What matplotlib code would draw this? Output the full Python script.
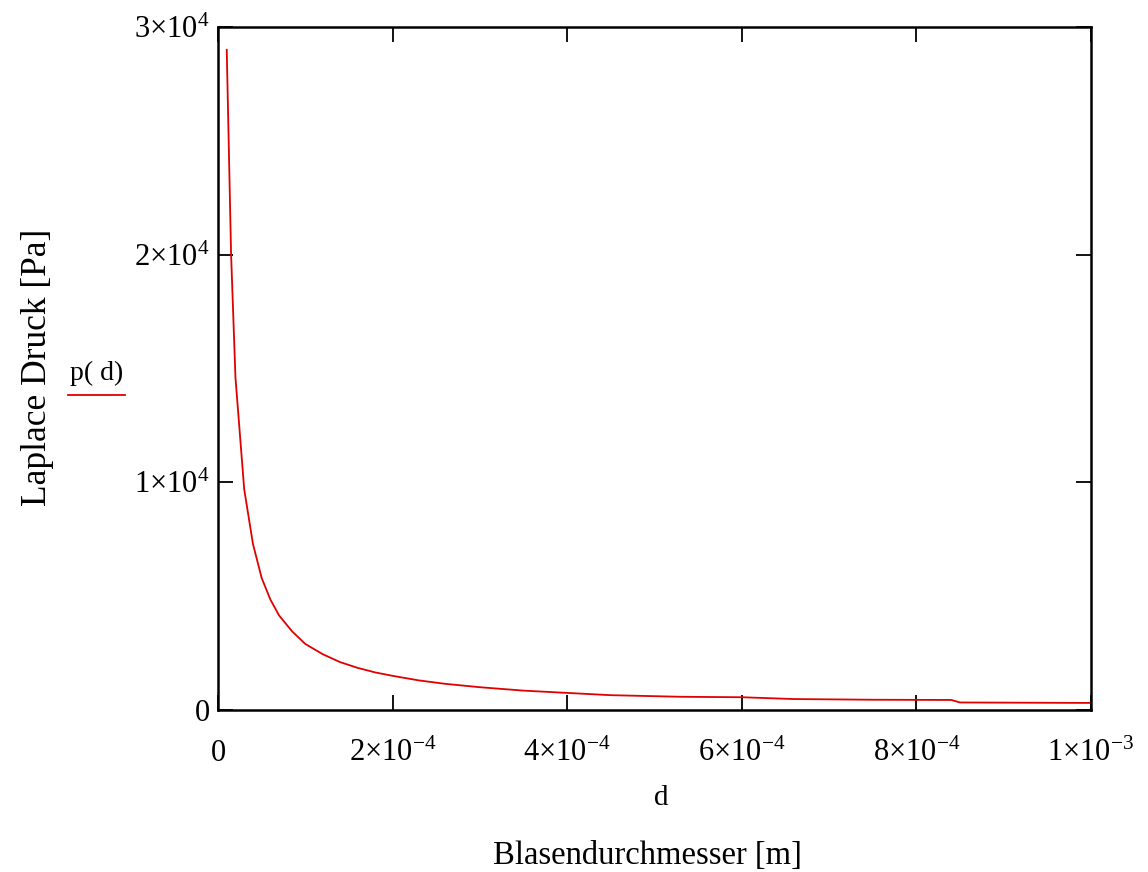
import matplotlib
matplotlib.use("Agg")
import matplotlib.pyplot as plt

# values
d_vals = [1.0e-5, 1.5e-5, 2.0e-5, 3.0e-5, 4.0e-5, 5.0e-5, 6.0e-5, 7.0e-5, 8.5e-5,
          1.0e-4, 1.2e-4, 1.4e-4, 1.6e-4, 1.8e-4, 2.0e-4, 2.3e-4, 2.6e-4, 3.0e-4,
          3.5e-4, 4.0e-4, 4.5e-4, 5.3e-4, 6.0e-4, 6.6e-4, 7.5e-4, 8.4e-4, 8.5e-4,
          9.2e-4, 1.0e-3]
p_vals = [29000, 20000, 14600, 9700, 7300, 5800, 4850, 4150, 3450,
          2900, 2450, 2100, 1850, 1650, 1500, 1300, 1150, 1000,
          850, 750, 650, 580, 560, 480, 450, 440, 330,
          320, 310]

x_ticks = [0, 2e-4, 4e-4, 6e-4, 8e-4, 1e-3]
x_labels = ["0", r"$2{\times}10^{-4}$", r"$4{\times}10^{-4}$", r"$6{\times}10^{-4}$",
            r"$8{\times}10^{-4}$", r"$1{\times}10^{-3}$"]
y_ticks = [0, 1e4, 2e4, 3e4]
y_labels = ["0", r"$1{\times}10^{4}$", r"$2{\times}10^{4}$", r"$3{\times}10^{4}$"]

plt.rcParams['font.family'] = 'Liberation Serif'
plt.rcParams['mathtext.fontset'] = 'custom'
plt.rcParams['mathtext.rm'] = 'Liberation Serif'
plt.rcParams['mathtext.it'] = 'Liberation Serif'

fig = plt.figure(figsize=(11.48, 8.72), dpi=100)
ax = fig.add_axes([0.1899, 0.1858, 0.9503 - 0.1899, 0.969 - 0.1858])

ax.plot(d_vals, p_vals, color='#e00000', linewidth=1.3)

ax.set_xlim(0, 1e-3)
ax.set_ylim(0, 3e4)
ax.set_xticks(x_ticks)
ax.set_xticklabels(x_labels)
ax.set_yticks(y_ticks)
ax.set_yticklabels(y_labels)
ax.minorticks_off()
ax.tick_params(direction='in', length=11, width=1.3, top=True, right=True,
               labelsize=22, color='black')
ax.tick_params(axis='x', pad=21)
ax.tick_params(axis='y', pad=6)
for s in ax.spines.values():
    s.set_linewidth(1.8)

# axis texts
fig.text(661 / 1148, 1 - 798 / 872, "d", fontsize=21, ha='center', va='center')
fig.text(647 / 1148, 1 - 856 / 872, "Blasendurchmesser [m]", fontsize=23.5,
         ha='center', va='center')
fig.text(38 / 1148, 1 - 367 / 872, "Laplace Druck [Pa]", fontsize=25.5, rotation=90,
         ha='center', va='center')
fig.text(97 / 1148, 1 - 373 / 872, "p( d)", fontsize=20, ha='center', va='center')
fig.add_artist(plt.Line2D([68 / 1148, 125 / 1148], [1 - 395 / 872, 1 - 395 / 872],
                          color='#e00000', linewidth=1.3))

fig.savefig("out.png", dpi=100)
